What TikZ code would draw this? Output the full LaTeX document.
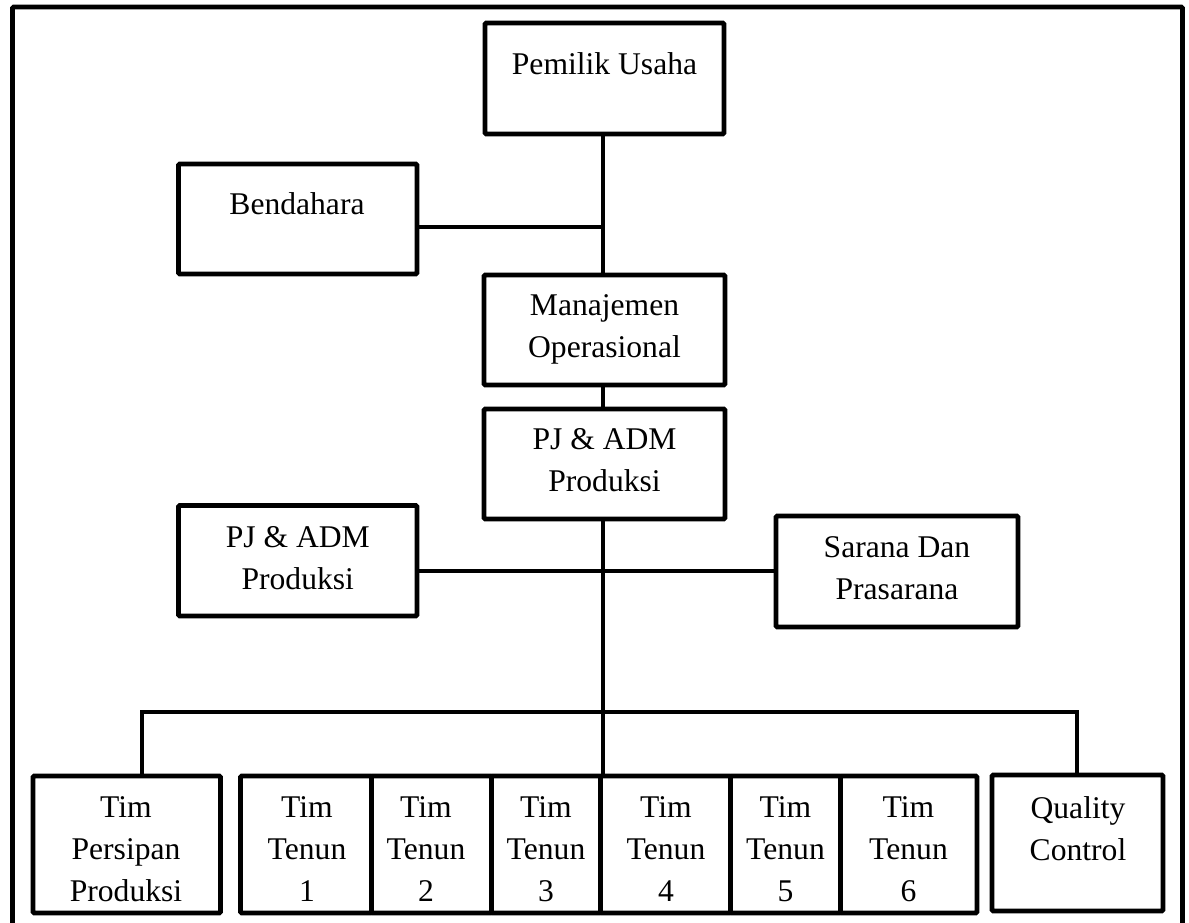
\documentclass[tikz,border=0pt]{standalone}
\usepackage{fontspec}
\setmainfont{Liberation Serif}
\usetikzlibrary{fit}
\tikzset{
  box/.style={draw=black, line width=3.4pt, inner sep=0pt, rounded corners=0.8pt},
  conn/.style={draw=black, line width=3pt},
  lbl/.style={anchor=north, inner sep=0pt, align=center, font=\fontsize{23.7pt}{31.5pt}\selectfont},
}
\begin{document}
\begin{tikzpicture}[x=0.75pt,y=-0.75pt]
\useasboundingbox (0,0) rectangle (1189,923);
\fill[white] (0,0) rectangle (1189,923);
\begin{scope}
\clip (0,0) rectangle (1189,923);
\node[box, fit={(12.5,7) (1182.5,960)}] (frame) {};
\end{scope}
% boxes
\node[box, fit={(485,23) (724,134)}] (pemilik) {};
\node[box, fit={(178.5,164) (417,274)}] (bend) {};
\node[box, fit={(484,275) (725,385)}] (manaj) {};
\node[box, fit={(484,409) (725,519)}] (pjtop) {};
\node[box, fit={(178.5,505.5) (417,616)}] (pjleft) {};
\node[box, fit={(776,516) (1018,627)}] (sarana) {};
\node[box, fit={(33,776) (220.5,913)}] (persipan) {};
\node[box, fit={(240.5,776) (371.5,913)}] (t1) {};
\node[box, fit={(371.5,776) (491.5,913)}] (t2) {};
\node[box, fit={(491.5,776) (600.5,913)}] (t3) {};
\node[box, fit={(600.5,776) (730.5,913)}] (t4) {};
\node[box, fit={(730.5,776) (840.5,913)}] (t5) {};
\node[box, fit={(840.5,776) (977,913)}] (t6) {};
\node[box, fit={(992,775) (1163,911)}] (qc) {};
% labels
\node[lbl] (pemilik-t) at (604.5,52.5) {Pemilik Usaha};
\node[lbl] (bend-t) at (297,192) {Bendahara};
\node[lbl] (manaj-t) at (604.5,294) {Manajemen\\Operasional};
\node[lbl] (pjtop-t) at (604.5,428) {PJ \& ADM\\Produksi};
\node[lbl] (pjleft-t) at (297.75,526) {PJ \& ADM\\Produksi};
\node[lbl] (sarana-t) at (897,536) {Sarana Dan\\Prasarana};
\node[lbl] (persipan-t) at (126,796) {Tim\\Persipan\\Produksi};
\node[lbl] (t1-t) at (307,796) {Tim\\Tenun\\1};
\node[lbl] (t2-t) at (426,796) {Tim\\Tenun\\2};
\node[lbl] (t3-t) at (546,796) {Tim\\Tenun\\3};
\node[lbl] (t4-t) at (666,796) {Tim\\Tenun\\4};
\node[lbl] (t5-t) at (785.5,796) {Tim\\Tenun\\5};
\node[lbl] (t6-t) at (908.5,796) {Tim\\Tenun\\6};
\node[lbl] (qc-t) at (1078,796) {Quality\\Control};
% junction coordinates
\coordinate (jB) at (603,227);
\coordinate (jM) at (603,570.5);
\coordinate (barL) at (142,712);
\coordinate (barR) at (1077,712);
\coordinate (jBot) at (603,712);
% connectors
\draw[conn] (pemilik.south -| jB) -- (manaj.north -| jB);
\draw[conn] (bend.east |- jB) -- (jB);
\draw[conn] (manaj.south -| jB) -- (pjtop.north -| jB);
\draw[conn] (pjtop.south -| jB) -- (t4.north -| jB);
\draw[conn] (pjleft.east |- jM) -- (sarana.west |- jM);
\draw[conn] (persipan.north -| barL) -- (barL) -- (barR) -- (qc.north -| barR);
\end{tikzpicture}
\end{document}
